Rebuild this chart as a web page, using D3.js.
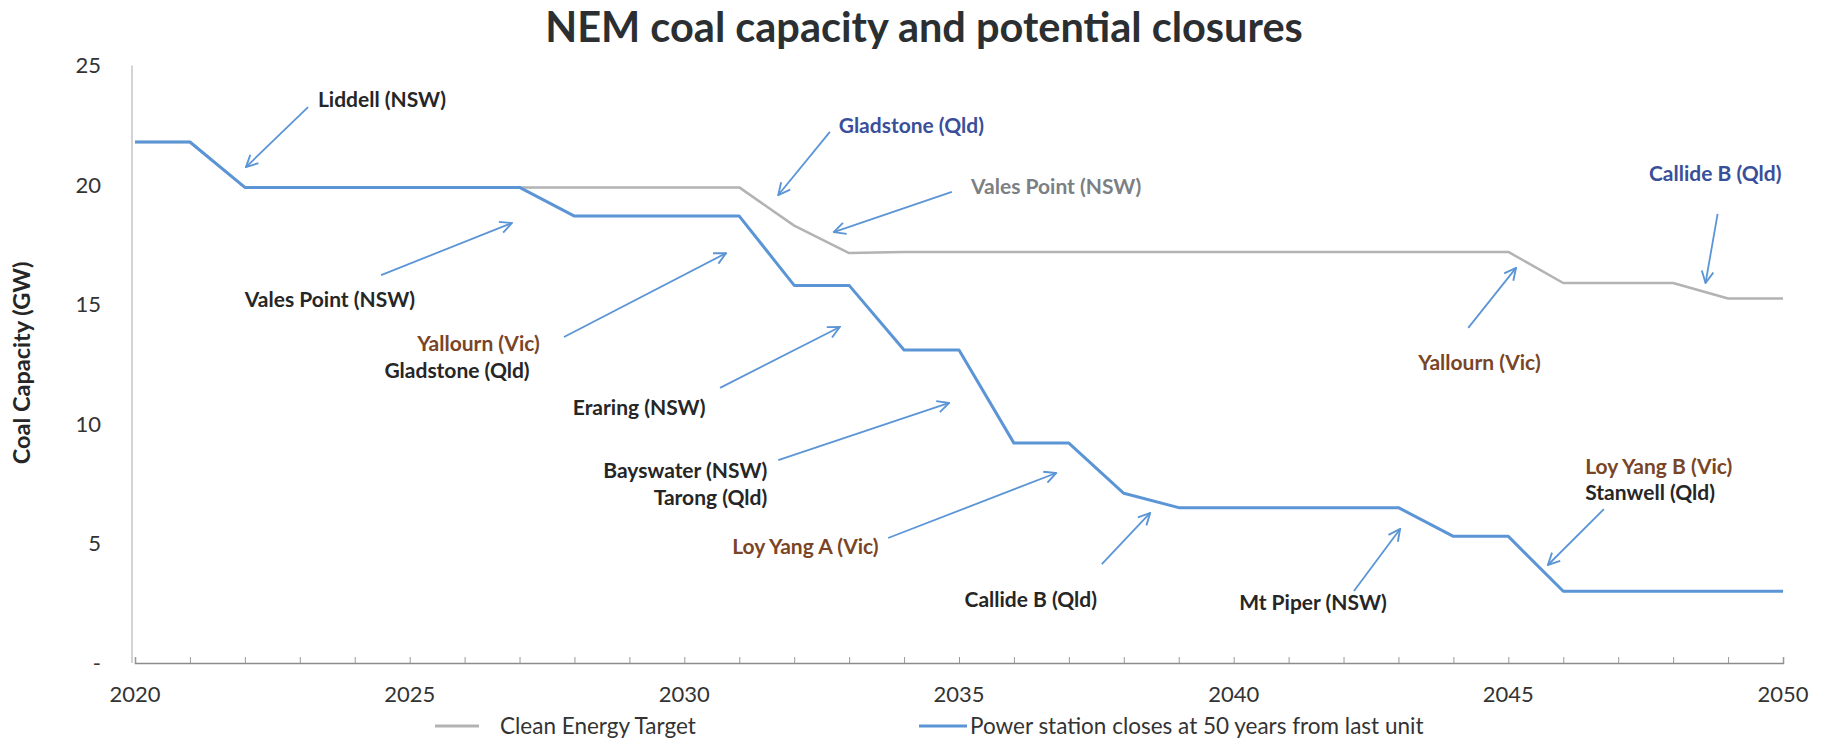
<!DOCTYPE html>
<html>
<head>
<meta charset="utf-8">
<script src="https://cdn.jsdelivr.net/npm/d3@7"></script>
<style>
  body { margin: 0; background: #fff; }
  svg text { font-family: Lato, "Open Sans", sans-serif; }
</style>
</head>
<body>
<div id="chart"></div>
<script>
window.addEventListener("DOMContentLoaded", function() {
    // Data
    const years = [2020, 2021, 2022, 2023, 2024, 2025, 2026, 2027, 2028, 2029, 2030,
        2031, 2032, 2033, 2034, 2035, 2036, 2037, 2038, 2039, 2040,
        2041, 2042, 2043, 2044, 2045, 2046, 2047, 2048, 2049, 2050];
    const cleanEnergyTarget = [21.8, 21.8, 19.9, 19.9, 19.9, 19.9, 19.9, 19.9, 19.9, 19.9, 19.9,
        19.9, 18.3, 17.15, 17.2, 17.2, 17.2, 17.2, 17.2, 17.2, 17.2,
        17.2, 17.2, 17.2, 17.2, 17.2, 15.9, 15.9, 15.9, 15.25, 15.25];
    const fiftyYears = [21.8, 21.8, 19.9, 19.9, 19.9, 19.9, 19.9, 19.9, 18.7, 18.7, 18.7,
        18.7, 15.8, 15.8, 13.1, 13.1, 9.2, 9.2, 7.1, 6.5, 6.5,
        6.5, 6.5, 6.5, 5.3, 5.3, 3.0, 3.0, 3.0, 3.0, 3.0];
    const yTicks = [0, 5, 10, 15, 20, 25];
    const xLabels = [2020, 2025, 2030, 2035, 2040, 2045, 2050];
    const seriesNames = ['Clean Energy Target', 'Power station closes at 50 years from last unit'];

    // Annotation labels: text, colour group, anchor point (year, GW)
    const labels = [
        { text: 'Liddell (NSW)', c: 'dark', x: 2023.33, y: 23.56 },
        { text: 'Vales Point (NSW)', c: 'dark', x: 2022.0, y: 15.19 },
        { text: 'Yallourn (Vic)', c: 'brown', x: 2025.14, y: 13.35 },
        { text: 'Gladstone (Qld)', c: 'dark', x: 2024.54, y: 12.22 },
        { text: 'Eraring (NSW)', c: 'dark', x: 2027.97, y: 10.67 },
        { text: 'Bayswater (NSW)', c: 'dark', x: 2031.51, y: 8.03, end: true },
        { text: 'Tarong (Qld)', c: 'dark', x: 2031.51, y: 6.92, end: true },
        { text: 'Loy Yang A (Vic)', c: 'brown', x: 2030.87, y: 4.87 },
        { text: 'Callide B (Qld)', c: 'dark', x: 2035.1, y: 2.64 },
        { text: 'Mt Piper (NSW)', c: 'dark', x: 2040.1, y: 2.51 },
        { text: 'Loy Yang B (Vic)', c: 'brown', x: 2046.4, y: 8.2 },
        { text: 'Stanwell (Qld)', c: 'dark', x: 2046.4, y: 7.11 },
        { text: 'Yallourn (Vic)', c: 'brown', x: 2043.36, y: 12.55 },
        { text: 'Callide B (Qld)', c: 'navy', x: 2047.56, y: 20.46 },
        { text: 'Gladstone (Qld)', c: 'navy', x: 2032.81, y: 22.47 },
        { text: 'Vales Point (NSW)', c: 'grey', x: 2035.22, y: 19.92 }
    ];
    // Arrows: from (x1, y1) to (x2, y2) in (year, GW)
    const arrows = [
        [2023.15, 23.26, 2022.02, 20.75],
        [2024.48, 16.23, 2026.86, 18.41],
        [2027.81, 13.64, 2030.76, 17.15],
        [2030.65, 11.51, 2032.83, 14.06],
        [2031.71, 8.49, 2034.82, 10.88],
        [2033.71, 5.23, 2036.77, 7.95],
        [2037.6, 4.14, 2038.48, 6.28],
        [2042.19, 3.01, 2043.03, 5.61],
        [2046.74, 6.44, 2045.72, 4.1],
        [2044.27, 14.02, 2045.14, 16.53],
        [2048.81, 18.79, 2048.59, 15.9],
        [2032.65, 22.22, 2031.71, 19.58],
        [2034.87, 19.71, 2032.72, 18.03]
    ];

    const textColors = { dark: '#262626', brown: '#7a4526', navy: '#3a4f9a', grey: '#7c7f84' };
    const lineColors = ['#b3b3b3', '#5b95d6'];

    // Set dimensions
    const width = 1822;
    const height = 739;

    const svg = d3.select('#chart')
        .append('svg')
        .attr('width', width)
        .attr('height', height);

    const x = d3.scaleLinear().domain([2020, 2050]).range([135, 1783]);
    const y = d3.scaleLinear().domain([0, 25]).range([663, 65.5]);

    // Title
    svg.append('text')
        .attr('x', 924)
        .attr('y', 42)
        .attr('text-anchor', 'middle')
        .style('font-size', '41.5px')
        .style('font-weight', 'bold')
        .style('fill', '#2b2f31')
        .text('NEM coal capacity and potential closures');

    // Y axis title
    svg.append('text')
        .attr('transform', 'translate(30,363) rotate(-90)')
        .attr('text-anchor', 'middle')
        .style('font-size', '23.5px')
        .style('font-weight', 'bold')
        .style('fill', '#262626')
        .text('Coal Capacity (GW)');

    // Y axis line and labels
    svg.append('line')
        .attr('x1', x(2020) - 3).attr('x2', x(2020) - 3)
        .attr('y1', y(25)).attr('y2', y(0))
        .attr('stroke', '#a8a8a8')
        .attr('stroke-width', 1);

    svg.selectAll('.ylab')
        .data(yTicks)
        .enter()
        .append('text')
        .attr('class', 'ylab')
        .attr('x', 101)
        .attr('y', d => y(d))
        .attr('dy', '0.35em')
        .attr('text-anchor', 'end')
        .style('font-size', '22px')
        .style('fill', '#333')
        .text(d => d === 0 ? '-' : d);

    // X axis
    const xAxis = d3.axisBottom(x)
        .tickValues(years)
        .tickSize(-6)
        .tickFormat('');
    const gx = svg.append('g')
        .attr('transform', `translate(0,${y(0)})`)
        .call(xAxis);
    gx.select('.domain').attr('stroke', '#8c8c8c').attr('stroke-width', 1.5);
    gx.selectAll('.tick line').attr('stroke', '#9a9a9a');

    svg.selectAll('.xlab')
        .data(xLabels)
        .enter()
        .append('text')
        .attr('class', 'xlab')
        .attr('x', d => x(d))
        .attr('y', 694)
        .attr('dy', '0.35em')
        .attr('text-anchor', 'middle')
        .style('font-size', '22px')
        .style('fill', '#333')
        .text(d => d);

    // Lines
    const line = d3.line()
        .x((d, i) => x(years[i]))
        .y(d => y(d));

    [cleanEnergyTarget, fiftyYears].forEach((s, i) => {
        svg.append('path')
            .datum(s)
            .attr('d', line)
            .attr('fill', 'none')
            .attr('stroke', lineColors[i])
            .attr('stroke-width', i === 0 ? 2.5 : 3)
            .attr('stroke-linejoin', 'round');
    });

    // Arrow marker
    svg.append('defs')
        .append('marker')
        .attr('id', 'head')
        .attr('viewBox', '0 0 12 12')
        .attr('refX', 11)
        .attr('refY', 6)
        .attr('markerWidth', 14)
        .attr('markerHeight', 14)
        .attr('markerUnits', 'userSpaceOnUse')
        .attr('orient', 'auto')
        .append('path')
        .attr('d', 'M1,1 L11,6 L1,11')
        .attr('fill', 'none')
        .attr('stroke', '#5b95d6')
        .attr('stroke-width', 1.6);

    svg.selectAll('.arrow')
        .data(arrows)
        .enter()
        .append('line')
        .attr('class', 'arrow')
        .attr('x1', d => x(d[0]))
        .attr('y1', d => y(d[1]))
        .attr('x2', d => x(d[2]))
        .attr('y2', d => y(d[3]))
        .attr('stroke', '#5b95d6')
        .attr('stroke-width', 1.8)
        .attr('marker-end', 'url(#head)');

    svg.selectAll('.ann')
        .data(labels)
        .enter()
        .append('text')
        .attr('class', 'ann')
        .attr('x', d => x(d.x))
        .attr('y', d => y(d.y))
        .attr('dy', '0.35em')
        .attr('text-anchor', d => d.end ? 'end' : 'start')
        .style('font-size', '21px')
        .style('font-weight', 'bold')
        .style('fill', d => textColors[d.c])
        .text(d => d.text);

    // Legend
    const legendX = [435, 919];
    seriesNames.forEach((name, i) => {
        svg.append('line')
            .attr('x1', legendX[i]).attr('x2', legendX[i] + (i === 0 ? 44 : 48))
            .attr('y1', 726).attr('y2', 726)
            .attr('stroke', lineColors[i])
            .attr('stroke-width', 3);
        svg.append('text')
            .attr('x', legendX[i] + (i === 0 ? 65 : 51))
            .attr('y', 726)
            .attr('dy', '0.35em')
            .style('font-size', '22.5px')
            .style('fill', '#333')
            .text(name);
    });
});
</script>
</body>
</html>
